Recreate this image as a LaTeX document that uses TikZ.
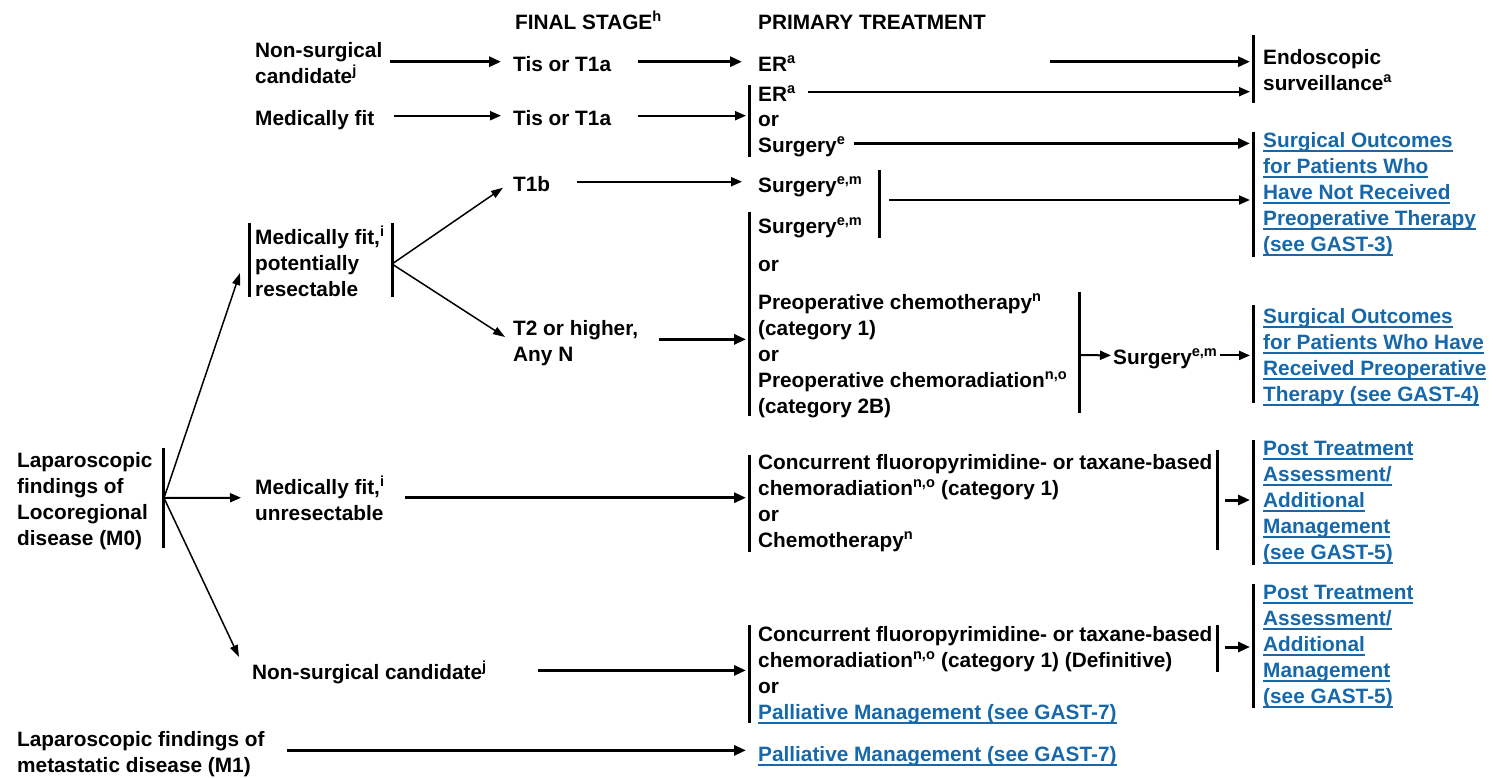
\documentclass[tikz,border=0pt]{standalone}
\usepackage{fontspec}
\setmainfont{Liberation Sans}
\usepackage{xcolor}
\definecolor{linkblue}{RGB}{22,104,170}
\usetikzlibrary{arrows.meta, positioning}
\newcommand{\lnk}[1]{{\color{linkblue}\setbox0\hbox{#1}\rlap{\rule[-4.5pt]{\wd0}{1.4pt}}\box0}}
\newcommand{\sps}[1]{\textsuperscript{#1}}
\newcommand{\topstrut}{\rule[-3pt]{0pt}{25pt}}

\begin{document}
\begin{tikzpicture}[x=1pt, y=-1pt,
    txt/.style={anchor=north west, inner sep=0pt, align=left, yshift=19pt,
      font=\fontsize{20.8}{26}\selectfont\bfseries\topstrut},
    bar/.style={line width=3pt},
    thk/.style={line width=3pt, -{Triangle[length=12pt,width=10pt]}},
    thn/.style={line width=2pt, -{Triangle[length=11pt,width=9pt]}},
    dg/.style={line width=1.5pt, -{Triangle[length=12pt,width=8pt]}}]
    \useasboundingbox (0,0) rectangle (1496,777);

    % column heads
    \node[txt] (fs) at (515,26) {FINAL STAGE\sps{h}};
    \node[txt] (pt) at (758,26) {PRIMARY TREATMENT};

    % top rows
    \node[txt] (nsc1) at (255,54) {\topstrut Non-surgical\\candidate\sps{j}};
    \node[txt] (fit1) at (255,122) {Medically fit};
    \node[txt] (tis1) at (513,68) {Tis or T1a};
    \node[txt] (tis2) at (513,122) {Tis or T1a};
    \node[txt] (er1) at (758,68) {ER\sps{a}};
    \node[txt] (er2) at (758,98) {ER\sps{a}};
    \node[txt] (or1) at (758,123) {or};
    \node[txt] (sur1) at (758,149) {Surgery\sps{e}};
    \node[txt] (endo) at (1263,61) {\topstrut Endoscopic\\surveillance\sps{a}};
    \node[txt] (so1) at (1263,144) {\topstrut\lnk{Surgical Outcomes}\\\lnk{for Patients Who}\\\lnk{Have Not Received}\\\lnk{Preoperative Therapy}\\\lnk{(see GAST-3)}};

    % potentially resectable
    \node[txt] (mfpr) at (255,241) {\topstrut Medically fit,\sps{i}\\potentially\\resectable};
    \node[txt] (t1b) at (513,188) {T1b};
    \node[txt] (t2) at (513,332) {\topstrut T2 or higher,\\Any N};
    \node[txt] (sur2) at (758,189) {Surgery\sps{e,m}};
    \node[txt] (sur3) at (758,230) {Surgery\sps{e,m}};
    \node[txt] (or2) at (758,268) {or};
    \node[txt] (preop) at (758,306) {\topstrut Preoperative chemotherapy\sps{n}\\(category 1)\\or\\Preoperative chemoradiation\sps{n,o}\\(category 2B)};
    \node[txt] (sur4) at (1113,361) {Surgery\sps{e,m}};
    \node[txt] (so2) at (1263,320) {\topstrut\lnk{Surgical Outcomes}\\\lnk{for Patients Who Have}\\\lnk{Received Preoperative}\\\lnk{Therapy (see GAST-4)}};

    % locoregional
    \node[txt] (lap) at (17,464) {\topstrut Laparoscopic\\findings of\\Locoregional\\disease (M0)};
    \node[txt] (mfu) at (255,491) {\topstrut Medically fit,\sps{i}\\unresectable};
    \node[txt] (conc1) at (758,466) {\topstrut Concurrent fluoropyrimidine- or taxane-based\\chemoradiation\sps{n,o} (category 1)\\or\\Chemotherapy\sps{n}};
    \node[txt] (ptr1) at (1263,452) {\topstrut\lnk{Post Treatment}\\\lnk{Assessment/}\\\lnk{Additional}\\\lnk{Management}\\\lnk{(see GAST-5)}};
    \node[txt] (nsc2) at (252,676) {Non-surgical candidate\sps{j}};
    \node[txt] (conc2) at (758,638) {\topstrut Concurrent fluoropyrimidine- or taxane-based\\chemoradiation\sps{n,o} (category 1) (Definitive)\\or\\\lnk{Palliative Management (see GAST-7)}};
    \node[txt] (ptr2) at (1263,596) {\topstrut\lnk{Post Treatment}\\\lnk{Assessment/}\\\lnk{Additional}\\\lnk{Management}\\\lnk{(see GAST-5)}};

    % metastatic
    \node[txt] (lapm) at (17,743) {\topstrut Laparoscopic findings of\\metastatic disease (M1)};
    \node[txt] (pal) at (758,758) {\lnk{Palliative Management (see GAST-7)}};

    % bar positions
    \coordinate (xA) at (749,0);
    \coordinate (xB) at (1253,0);
    \coordinate (pairmid) at (879,200);
    \coordinate (mfprR) at (392,264);
    \coordinate (lapR) at (164,498);
    \coordinate (c1R) at (1217,500);
    \coordinate (c2R) at (1217,647);
    \coordinate (preR) at (1079,355);

    % bars
    \draw[bar] (1253,35) -- (1253,103);
    \draw[bar] (749,85) -- (749,157);
    \draw[bar] (1253,132) -- (1253,257);
    \draw[bar] (879,170) -- (879,238);
    \draw[bar] (749,212) -- (749,416);
    \draw[bar] (249,223) -- (249,297);
    \draw[bar] (392,223) -- (392,297);
    \draw[bar] (1079,292) -- (1079,413);
    \draw[bar] (1253,305) -- (1253,403);
    \draw[bar] (163,448) -- (163,548);
    \draw[bar] (749,455) -- (749,552);
    \draw[bar] (1217,450) -- (1217,550);
    \draw[bar] (1253,440) -- (1253,565);
    \draw[bar] (749,625) -- (749,723);
    \draw[bar] (1217,625) -- (1217,672);
    \draw[bar] (1253,584) -- (1253,708);

    % arrows
    \draw[thk] ([xshift=7pt]nsc1.east |- tis1.west) -- ([xshift=-12pt]tis1.west);
    \draw[thn] ([xshift=20pt]fit1.east |- tis2.west) -- ([xshift=-12pt]tis2.west);
    \draw[thk] ([xshift=27pt]tis1.east) -- ([xshift=-16pt]er1.west);
    \draw[thn, shorten >=3pt] ([xshift=27pt]tis2.east) -- (xA |- tis2.west);
    \draw[thk, shorten >=3pt] ([xshift=254pt]er1.east) -- (xB |- er1.west);
    \draw[thn, shorten >=3pt] ([xshift=12pt]er2.east) -- (xB |- er2.west);
    \draw[thk, shorten >=3pt] ([xshift=8pt]sur1.east) -- (xB |- sur1.west);
    \draw[thn] ([xshift=27pt]t1b.east) -- ([xshift=-16pt]sur2.west |- t1b.east);
    \draw[thn, shorten >=3pt] ([xshift=10pt]pairmid) -- (xB |- pairmid);
    \draw[dg] (mfprR) -- ([shift={(-10pt,-6pt)}]t1b.west);
    \draw[dg] (mfprR) -- ([shift={(-8pt,-24pt)}]t2.north west);
    \draw[thk, shorten >=3pt] ([xshift=21pt]t2.east) -- (xA |- t2.east);
    \draw[dg] (lapR) -- ([shift={(-15pt,-51pt)}]mfpr.north west);
    \draw[thn] (lapR) -- ([xshift=-14pt]mfu.west);
    \draw[dg] (lapR) -- ([xshift=-13pt]nsc2.north west);
    \draw[thk, shorten >=3pt] ([xshift=20pt]mfu.east) -- (xA |- mfu.east);
    \draw[thk, shorten >=3pt] ([xshift=8pt]c1R) -- (xB |- c1R);
    \draw[thk, shorten >=3pt] ([xshift=51pt]nsc2.east) -- (xA |- nsc2.west);
    \draw[thk, shorten >=3pt] ([xshift=8pt]c2R) -- (xB |- c2R);
    \draw[thk, shorten >=3pt] ([xshift=22pt]lapm.east) -- (xA |- lapm.east);
    \draw[thn] (preR) -- ([xshift=-2pt]sur4.west);
    \draw[thn, shorten >=3pt] ([xshift=2pt]sur4.east) -- (xB |- sur4.west);
\end{tikzpicture}
\end{document}
